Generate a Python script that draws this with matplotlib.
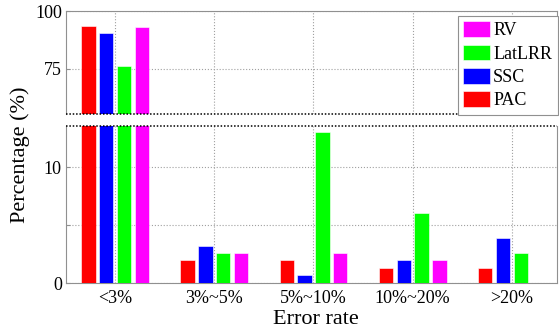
import numpy as np
import matplotlib.pyplot as plt

plt.rcParams['font.family'] = ['Liberation Serif', 'DejaVu Serif']

# data (percent of samples per error-rate bin)
categories = ['<3%', '3%~5%', '5%~10%', '10%~20%', '>20%']
methods = ['PAC', 'SSC', 'LatLRR', 'RV']
colors = ['#ff0000', '#0000ff', '#00ff00', '#ff00ff']
pac = [93.5, 2.0, 2.0, 1.33, 1.33]
ssc = [90.4, 3.2, 0.7, 2.0, 3.9]
latlrr = [76.4, 2.6, 13.0, 6.0, 2.6]
rv = [93.0, 2.6, 2.6, 2.0, 0.0]
values = [pac, ssc, latlrr, rv]

x = np.arange(1, len(categories) + 1)
offsets = [-0.27, -0.09, 0.09, 0.27]
width = 0.145

W, H = 559, 329
fig = plt.figure(figsize=(W / 100, H / 100), dpi=100)
left, right = 66 / W, 557 / W
ax_top = fig.add_axes([left, 1 - 114 / H, right - left, (114 - 11) / H])
ax_bot = fig.add_axes([left, 1 - 283 / H, right - left, (283 - 126) / H])

for ax in (ax_top, ax_bot):
    handles = []
    for vals, off, c, name in zip(values, offsets, colors, methods):
        b = ax.bar(x + off, vals, width, color=c, edgecolor='white', linewidth=0.4, label=name, zorder=3)
        handles.append(b)
    ax.set_xlim(0.505, 5.455)
    ax.set_xticks(x)
    ax.grid(True, color='#a0a0a0', linestyle=':', linewidth=0.8, zorder=0)
    for s in ax.spines.values():
        s.set_color('#909090')
    ax.tick_params(axis='y', direction='in', length=3, color='#909090', labelsize=13, pad=3)
    ax.tick_params(axis='x', length=0, labelsize=13, pad=5)

# broken axis: dotted edges where the two panels meet
ax_top.set_ylim(55.6, 100)
ax_top.set_yticks([75, 100])
ax_top.set_xticklabels([])
ax_top.spines['bottom'].set_visible(False)
ax_top.axhline(55.6, color='black', linestyle=(0, (1.0, 1.2)), linewidth=1.1, clip_on=False, zorder=5)

ax_bot.set_ylim(0, 13.55)
ax_bot.set_yticks([0, 5, 10])
ax_bot.set_yticklabels(['0', '', '10'])
ax_bot.set_xticklabels(categories)
ax_bot.spines['top'].set_visible(False)
ax_bot.axhline(13.55, color='black', linestyle=(0, (1.0, 1.2)), linewidth=1.1, clip_on=False, zorder=5)

leg = ax_top.legend(handles[::-1], methods[::-1], loc='upper right',
                    bbox_to_anchor=(557.5 / W, 1 - 15.7 / H), bbox_transform=fig.transFigure,
                    borderaxespad=0, fontsize=13, fancybox=False, framealpha=1,
                    edgecolor='#909090', handlelength=1.5, handleheight=0.95,
                    handletextpad=0.15, labelspacing=0.3, borderpad=0.3)
leg.get_frame().set_linewidth(0.8)

fig.text(316 / W, 1 - 320 / H, 'Error rate', fontsize=16, ha='center', va='center')
fig.text(20 / W, 1 - 155 / H, 'Percentage (%)', fontsize=16, ha='center', va='center', rotation=90)

fig.savefig('out.png', dpi=100)
